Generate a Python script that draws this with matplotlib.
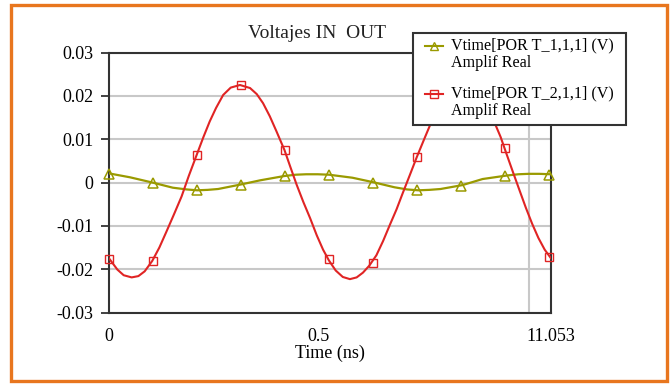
import matplotlib
matplotlib.use('Agg')
import matplotlib.pyplot as plt
from matplotlib.patches import Rectangle
from matplotlib.lines import Line2D

plt.rcParams['font.family'] = ['Liberation Serif', 'DejaVu Serif']

# curvas (tiempo en ns, voltaje en V)
t_in = [0.000, 0.050, 0.103, 0.152, 0.185, 0.210, 0.235, 0.260, 0.312, 0.360, 0.418, 0.445, 0.470,
        0.497, 0.524, 0.580, 0.628, 0.680, 0.710, 0.737, 0.763, 0.790, 0.842, 0.890, 0.947, 0.975,
        1.000, 1.025, 1.053]
v_in = [0.0021, 0.0012, 0.0000, -0.0012, -0.0016, -0.0018, -0.0017, -0.0015, -0.0005, 0.0005, 0.0015, 0.0018, 0.0019,
        0.0019, 0.0018, 0.0011, 0.0001, -0.0011, -0.0016, -0.0018, -0.0017, -0.0015, -0.0006, 0.0008, 0.0016, 0.0019,
        0.0020, 0.0020, 0.0019]

t_out = [0.000, 0.020, 0.035, 0.054, 0.070, 0.085, 0.103, 0.120, 0.137, 0.155,
         0.173, 0.190, 0.209, 0.225, 0.240, 0.255, 0.272, 0.290, 0.312, 0.336,
         0.352, 0.367, 0.383, 0.399, 0.418, 0.432, 0.447, 0.463, 0.479, 0.495,
         0.510, 0.524, 0.540, 0.557, 0.574, 0.590, 0.605, 0.620, 0.637, 0.653,
         0.669, 0.685, 0.700, 0.717, 0.733, 0.750, 0.766, 0.783, 0.800, 0.820,
         0.840, 0.860, 0.880, 0.900, 0.919, 0.933, 0.947, 0.962, 0.978, 0.993,
         1.008, 1.023, 1.038, 1.053]
v_out = [-0.0175, -0.0201, -0.0214, -0.0219, -0.0216, -0.0205, -0.0181, -0.0150, -0.0113, -0.0073,
         -0.0032, 0.0015, 0.0064, 0.0105, 0.0141, 0.0172, 0.0202, 0.0219, 0.0225, 0.0218,
         0.0204, 0.0183, 0.0153, 0.0118, 0.0075, 0.0036, -0.0005, -0.0045, -0.0082, -0.0122,
         -0.0155, -0.0180, -0.0203, -0.0218, -0.0223, -0.0219, -0.0208, -0.0192, -0.0168, -0.0135,
         -0.0098, -0.0062, -0.0024, 0.0018, 0.0058, 0.0098, 0.0135, 0.0172, 0.0200, 0.0218,
         0.0224, 0.0218, 0.0200, 0.0172, 0.0137, 0.0105, 0.0066, 0.0025, -0.0018, -0.0058,
         -0.0095, -0.0128, -0.0155, -0.0175]

# marcadores
t_mark = [0.0, 0.105, 0.210, 0.314, 0.419, 0.524, 0.629, 0.733, 0.838, 0.943, 1.048]
m_in = [0.0020, 0.0000, -0.0017, -0.0005, 0.0016, 0.0018, 0.0000, -0.0017, -0.0007, 0.0016, 0.0018]
m_out = [-0.0176, -0.0182, 0.0063, 0.0224, 0.0075, -0.0177, -0.0185, 0.0058, 0.0222, 0.0080, -0.0172]

nombres = ['Vtime[POR T_1,1,1] (V)\nAmplif Real', 'Vtime[POR T_2,1,1] (V)\nAmplif Real']
verde = '#9a9a00'
rojo = '#e02424'

W, H = 671, 384
fig = plt.figure(figsize=(W / 100, H / 100), dpi=100)
ax = fig.add_axes([109 / W, 1 - 312.5 / H, 442 / W, 260 / H])

ax.plot(t_in, v_in, color=verde, lw=1.6, zorder=3)
ax.plot(t_mark, m_in, ls='none', marker='^', ms=6.5, mfc='none', mec=verde, mew=1.1, zorder=4, clip_on=False)
ax.plot(t_out, v_out, color=rojo, lw=1.5, zorder=3)
ax.plot(t_mark, m_out, ls='none', marker='s', ms=6, mfc='none', mec=rojo, mew=1.0, zorder=4, clip_on=False)

ax.set_xlim(0, 1.053)
ax.set_ylim(-0.03, 0.03)
ax.set_yticks([-0.03, -0.02, -0.01, 0, 0.01, 0.02, 0.03])
ax.set_yticklabels(['-0.03', '-0.02', '-0.01', '0', '0.01', '0.02', '0.03'])
ax.set_xticks([0, 0.5, 1.053])
ax.set_xticklabels(['0', '0.5', '11.053'])
ax.set_xticks([0.5, 1.0], minor=True)
ax.tick_params(axis='y', length=6, width=1.3, color='#333333', pad=5, labelsize=13)
ax.tick_params(axis='x', which='both', length=0, pad=11, labelsize=13)
ax.grid(axis='y', color='#c8c8c8', lw=1.5, zorder=1)
ax.grid(axis='x', which='minor', color='#c8c8c8', lw=1.5, zorder=1)
ax.set_axisbelow(True)
for s in ax.spines.values():
    s.set_color('#333333')
    s.set_linewidth(1.5)

ax.set_xlabel('Time (ns)', fontsize=13, labelpad=0)
fig.text(317 / W, 1 - 33 / H, 'Voltajes IN  OUT', ha='center', va='center', fontsize=14, color='#222222')

# leyenda a mano
fig.patches.append(Rectangle((413 / W, 1 - 125 / H), 213 / W, 92 / H, transform=fig.transFigure,
                             facecolor='white', edgecolor='#333333', lw=1.5, zorder=10))
for i, (c, mk) in enumerate([(verde, '^'), (rojo, 's')]):
    yy = 1 - (46 + 48 * i) / H
    fig.lines.append(Line2D([425 / W, 443 / W], [yy, yy], transform=fig.transFigure, color=c, lw=1.5, zorder=11))
    fig.lines.append(Line2D([434 / W], [yy], transform=fig.transFigure, marker=mk, ms=6, mfc='none',
                            mec=c, mew=1.0, zorder=11))
    fig.text(451 / W, 1 - (37 + 48 * i) / H, nombres[i], ha='left', va='top', fontsize=11.6,
             linespacing=1.2, zorder=12)

fig.patches.append(Rectangle((11 / W, 1 - 381 / H), 656 / W, 376 / H, transform=fig.transFigure,
                             facecolor='none', edgecolor='#e8761e', lw=2.4, zorder=20))

fig.savefig('out.png', dpi=100)
